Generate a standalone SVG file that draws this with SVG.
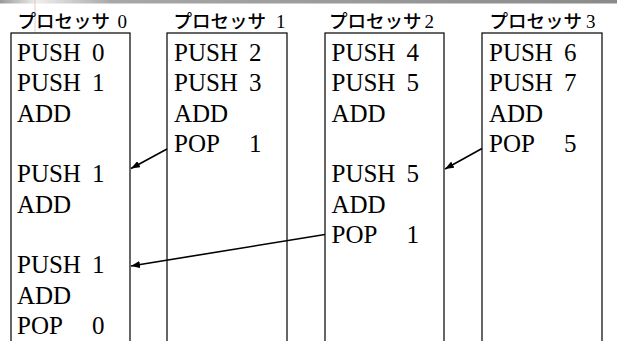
<svg xmlns="http://www.w3.org/2000/svg" width="617" height="341" viewBox="0 0 617 341">
<defs>
<linearGradient id="bar" x1="0" y1="0" x2="1" y2="0">
<stop offset="0" stop-color="#9a9a9a"/>
<stop offset="0.06" stop-color="#eeeeee"/>
<stop offset="0.18" stop-color="#a8a8a8"/>
<stop offset="1" stop-color="#8a8a8a"/>
</linearGradient>
<marker id="ah" markerUnits="userSpaceOnUse" markerWidth="9" markerHeight="7" refX="9" refY="3.5" orient="auto">
<path d="M0,0 L9,3.5 L0,7 z" fill="#000"/>
</marker>
</defs>
<style>
.box{fill:#fff;stroke:#000;stroke-width:1.2}
.c{stroke:#000;stroke-width:1.6;fill:none;marker-end:url(#ah)}
.hd{font-family:'Noto Sans CJK JP','Noto Sans CJK SC',sans-serif;font-size:18.5px;font-weight:500;fill:#000}
.hn{font-family:'Liberation Serif','Times New Roman',serif;font-size:19px;fill:#000}
.t{font-family:'Liberation Serif','Times New Roman',serif;font-size:25px;fill:#000}
</style>
<rect x="0" y="0" width="617" height="3.5" fill="url(#bar)"/>
<line x1="35" y1="0" x2="35" y2="33" stroke="#e8c8c8" stroke-width="1"/>

<g id="proc0">
<text class="hd" x="17.5" y="28">プロセッサ</text>
<text class="hn" x="117.5" y="28">0</text>
<rect class="box" x="11" y="33" width="119" height="320"/>
<text class="t" x="17" y="61">PUSH<tspan x="92">0</tspan></text>
<text class="t" x="17" y="91.3">PUSH<tspan x="92">1</tspan></text>
<text class="t" x="17" y="121.7">ADD</text>
<text class="t" x="17" y="182.4">PUSH<tspan x="92">1</tspan></text>
<text class="t" x="17" y="212.7">ADD</text>
<text class="t" x="17" y="273.4">PUSH<tspan x="92">1</tspan></text>
<text class="t" x="17" y="303.7">ADD</text>
<text class="t" x="17" y="334">POP<tspan x="92">0</tspan></text>
</g>

<g id="proc1">
<text class="hd" x="173.5" y="28">プロセッサ</text>
<text class="hn" x="276" y="28">1</text>
<rect class="box" x="167" y="33" width="120" height="320"/>
<text class="t" x="174" y="61">PUSH<tspan x="249">2</tspan></text>
<text class="t" x="174" y="91.3">PUSH<tspan x="249">3</tspan></text>
<text class="t" x="174" y="121.7">ADD</text>
<text class="t" x="174" y="152">POP<tspan x="249">1</tspan></text>
</g>

<g id="proc2">
<text class="hd" x="329" y="28">プロセッサ</text>
<text class="hn" x="424.5" y="28">2</text>
<rect class="box" x="325" y="33" width="119" height="320"/>
<text class="t" x="331.5" y="61">PUSH<tspan x="406.5">4</tspan></text>
<text class="t" x="331.5" y="91.3">PUSH<tspan x="406.5">5</tspan></text>
<text class="t" x="331.5" y="121.7">ADD</text>
<text class="t" x="331.5" y="182.4">PUSH<tspan x="406.5">5</tspan></text>
<text class="t" x="331.5" y="212.7">ADD</text>
<text class="t" x="331.5" y="243">POP<tspan x="406.5">1</tspan></text>
</g>

<g id="proc3">
<text class="hd" x="489.5" y="28">プロセッサ</text>
<text class="hn" x="586" y="28">3</text>
<rect class="box" x="482" y="33" width="120" height="320"/>
<text class="t" x="489" y="61">PUSH<tspan x="564">6</tspan></text>
<text class="t" x="489" y="91.3">PUSH<tspan x="564">7</tspan></text>
<text class="t" x="489" y="121.7">ADD</text>
<text class="t" x="489" y="152">POP<tspan x="564">5</tspan></text>
</g>

<g id="connectors">
<line class="c" x1="167" y1="149" x2="131" y2="168.5"/>
<line class="c" x1="325" y1="234.5" x2="131" y2="266"/>
<line class="c" x1="482" y1="148.5" x2="445" y2="169"/>
</g>
</svg>
